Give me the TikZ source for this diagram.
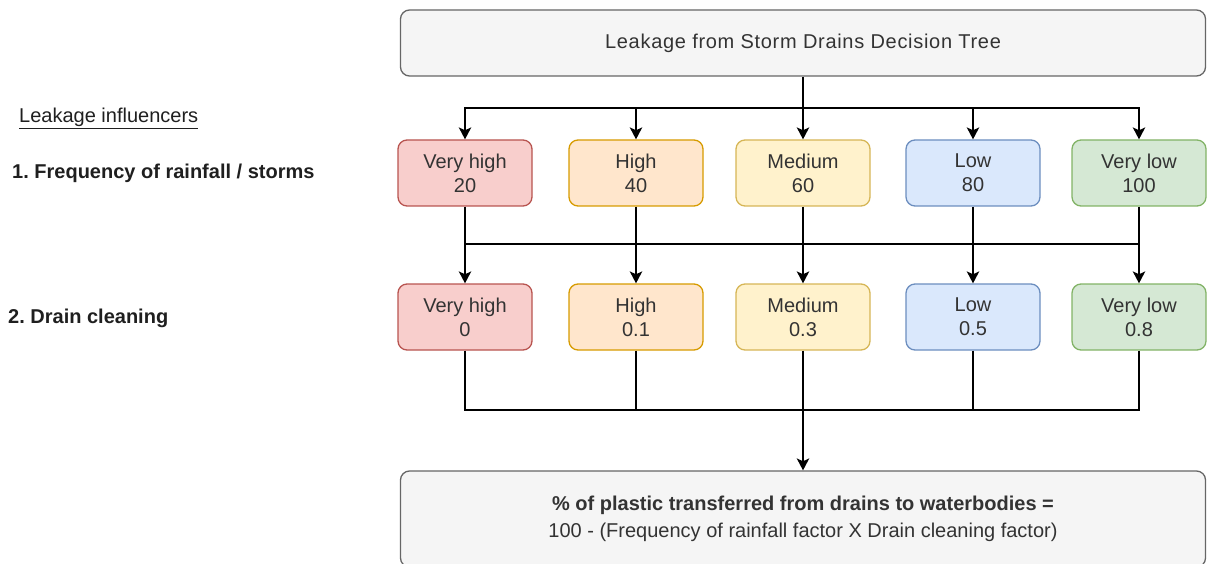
\documentclass[tikz,border=0pt]{standalone}
\usepackage{fontspec}
\setmainfont{Liberation Sans}
\usetikzlibrary{arrows.meta}
\frenchspacing
\definecolor{redF}{HTML}{F8CECC}\definecolor{redD}{HTML}{B85450}
\definecolor{oraF}{HTML}{FFE6CC}\definecolor{oraD}{HTML}{D79B00}
\definecolor{yelF}{HTML}{FFF2CC}\definecolor{yelD}{HTML}{D6B656}
\definecolor{bluF}{HTML}{DAE8FC}\definecolor{bluD}{HTML}{6C8EBF}
\definecolor{grnF}{HTML}{D5E8D4}\definecolor{grnD}{HTML}{82B366}
\definecolor{gryF}{HTML}{F5F5F5}\definecolor{gryD}{HTML}{666666}
\definecolor{txt}{HTML}{333333}
\begin{document}
\begin{tikzpicture}[x=1pt,y=-1pt,
  box/.style={rounded corners=9pt, line width=1.3pt, minimum width=134pt, minimum height=66pt,
    inner sep=0pt, align=center, text=txt, font=\fontsize{20}{24}\selectfont},
  redbox/.style={box, fill=redF, draw=redD},
  orabox/.style={box, fill=oraF, draw=oraD},
  yelbox/.style={box, fill=yelF, draw=yelD},
  blubox/.style={box, fill=bluF, draw=bluD},
  grnbox/.style={box, fill=grnF, draw=grnD},
  graybox/.style={box, fill=gryF, draw=gryD},
  conn/.style={line width=1.6pt, draw=black},
  arr/.style={conn, -{Stealth[length=12pt,width=12.5pt,inset=3pt]}},
  lbl/.style={anchor=west, inner sep=0pt, text=black!88, font=\fontsize{20}{24}\selectfont}]
\useasboundingbox (0,0) rectangle (1207,564);

\node[graybox, minimum width=805pt, minimum height=66pt, font=\fontsize{20}{24}\selectfont\addfontfeatures{LetterSpace=3.5}] (top) at (803,43) {\raisebox{-2pt}{Leakage from Storm Drains Decision Tree}};

\node[lbl] (infl) at (19,118) {\underline{Leakage influencers}};
\node[lbl] (f1) at (12,173) {\textbf{1. Frequency of rainfall / storms}};
\node[lbl] (f2) at (8,318) {\textbf{2. Drain cleaning}};

\node[redbox] (a1) at (465,173) {Very high\\20};
\node[orabox] (b1) at (636,173) {High\\40};
\node[yelbox] (c1) at (803,173) {Medium\\60};
\node[blubox] (d1) at (973,173) {Low\\80};
\node[grnbox] (e1) at (1139,173) {Very low\\100};

\node[redbox] (a2) at (465,317) {Very high\\0};
\node[orabox] (b2) at (636,317) {High\\0.1};
\node[yelbox] (c2) at (803,317) {Medium\\0.3};
\node[blubox] (d2) at (973,317) {Low\\0.5};
\node[grnbox] (e2) at (1139,317) {Very low\\0.8};

\node[graybox, minimum width=805pt, minimum height=96pt, font=\fontsize{20}{27}\selectfont] (bot) at (803,519)
  {\textbf{\% of plastic transferred from drains to waterbodies =}\\100 - (Frequency of rainfall factor X Drain cleaning factor)};

% top to row 1
\coordinate (j1) at (803,108);
\draw[conn] (top.south) -- (j1);
\foreach \n in {a1,b1,c1,d1,e1} \draw[arr] (j1) -| (\n.north);

% row 1 to row 2
\foreach \n/\m in {a1/a2,b1/b2,c1/c2,d1/d2,e1/e2} \draw[arr] (\n.south) -- (\m.north);
\coordinate (h2l) at (465,244);
\coordinate (h2r) at (1139,244);
\draw[conn] (h2l) -- (h2r);

% row 2 to bottom
\coordinate (j3) at (803,410);
\foreach \n in {a2,b2,d2,e2} \draw[conn] (\n.south) |- (j3);
\draw[conn] (c2.south) -- (j3);
\draw[arr] (j3) -- (bot.north);
\end{tikzpicture}
\end{document}
